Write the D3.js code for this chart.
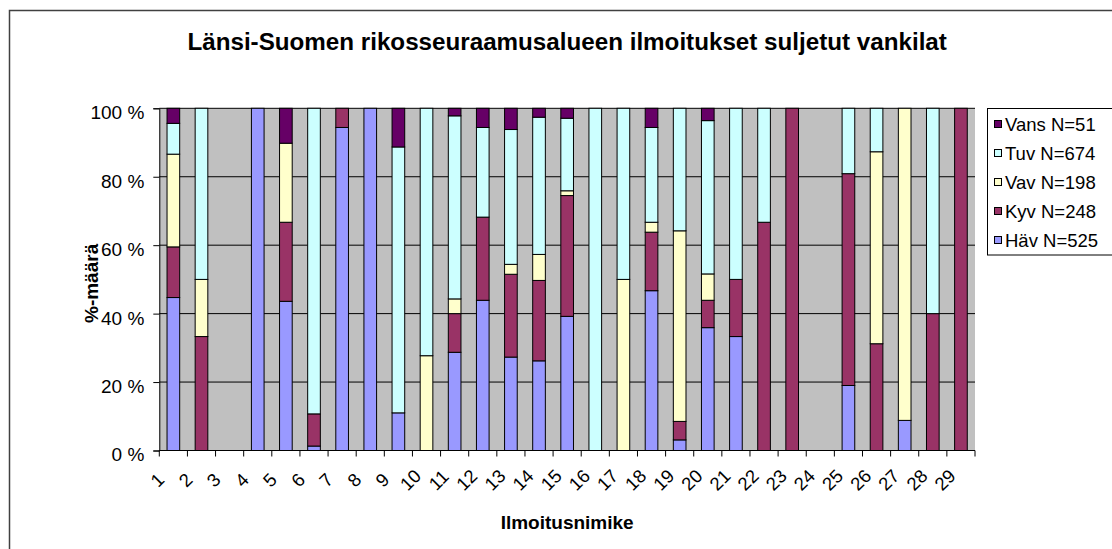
<!DOCTYPE html>
<html><head><meta charset="utf-8">
<script src="https://cdn.jsdelivr.net/npm/d3@7"></script>
<style>html,body{margin:0;padding:0;background:#fff;}svg{display:block;font-family:"Liberation Sans",Arial,sans-serif;}</style>
</head><body>
<svg id="c" width="1112" height="549"></svg>
<script>
const categories = ["1","2","3","4","5","6","7","8","9","10","11","12","13","14","15","16","17","18","19","20","21","22","23","24","25","26","27","28","29"];
const seriesNames = ["Häv N=525","Kyv N=248","Vav N=198","Tuv N=674","Vans N=51"];
const seriesKeys = ["hav","kyv","vav","tuv","vans"];
const colors = ["#9999FF","#993366","#FFFFCC","#CCFFFF","#660066"];
const hav  = [44.7,0,0,100,43.6,1.3,94.4,100,11.0,0,28.7,43.9,27.3,26.2,39.2,0,0,46.7,3.1,35.9,33.3,0,0,0,19.0,0,8.8,0,0];
const kyv  = [14.8,33.3,0,0,23.1,9.4,5.6,0,0,0,11.3,24.3,24.2,23.5,35.3,0,0,17.1,5.4,8.0,16.7,66.7,100,0,61.9,31.2,0,40,100];
const vav  = [27.1,16.7,0,0,23.1,0,0,0,0,27.7,4.3,0,2.9,7.6,1.4,0,50,2.9,55.7,7.7,0,0,0,0,0,56.1,91.2,0,0];
const tuv  = [9.0,50,0,0,0,89.3,0,0,77.7,72.3,53.5,26.2,39.4,40.1,21.2,100,50,27.7,35.8,44.8,50,33.3,0,0,19.1,12.7,0,60,0];
const vans = [4.4,0,0,0,10.2,0,0,0,11.3,0,2.2,5.6,6.2,2.6,2.9,0,0,5.6,0,3.6,0,0,0,0,0,0,0,0,0];
const yTicks = [0,0.2,0.4,0.6,0.8,1.0];
const yTickLabels = ["0 %","20 %","40 %","60 %","80 %","100 %"];
const title = "Länsi-Suomen rikosseuraamusalueen ilmoitukset suljetut vankilat";
const xTitle = "Ilmoitusnimike";
const yTitle = "%-määrä";

const table = categories.map((c,i)=>({cat:c, hav:hav[i], kyv:kyv[i], vav:vav[i], tuv:tuv[i], vans:vans[i]}));

const svg = d3.select("#c");
const L = 159.3, R = 975, T = 108.3, B = 450.5;

svg.append("rect").attr("x",9.5).attr("y",10.5).attr("width",1110).attr("height",550)
  .attr("fill","#fff").attr("stroke","#404040").attr("stroke-width",1.5);

const x = d3.scaleBand().domain(categories).range([L,R]).paddingInner(0.55).paddingOuter(0.275);
const y = d3.scaleLinear().domain([0,1]).range([B,T]);

svg.append("rect").attr("x",L).attr("y",T).attr("width",R-L).attr("height",B-T).attr("fill","#C0C0C0");

svg.append("g").selectAll("line").data(yTicks.slice(1)).join("line")
  .attr("x1",L).attr("x2",R).attr("y1",d=>y(d)).attr("y2",d=>y(d))
  .attr("stroke","#000").attr("stroke-width",1);

const stack = d3.stack().keys(seriesKeys).offset(d3.stackOffsetExpand);
const stacked = stack(table);
svg.append("g").selectAll("g").data(stacked).join("g")
  .attr("fill",(d,i)=>colors[i])
  .selectAll("rect").data(d=>d.filter(s=>s[1]-s[0]>0)).join("rect")
  .attr("x",d=>x(d.data.cat)).attr("width",x.bandwidth())
  .attr("y",d=>y(d[1])).attr("height",d=>y(d[0])-y(d[1]))
  .attr("stroke","#000").attr("stroke-width",1);

const yAxis = d3.axisLeft(y).tickValues(yTicks).tickFormat((d,i)=>yTickLabels[i]).tickSize(6).tickPadding(9);
const ya = svg.append("g").attr("transform",`translate(${L},0)`).call(yAxis);
ya.select(".domain").attr("stroke","#000");
ya.selectAll(".tick line").attr("stroke","#000");
ya.selectAll("text").attr("font-size","19px").attr("fill","#000").attr("dy","0.55em")
  .attr("font-family",'"Liberation Sans",Arial,sans-serif');

const bounds = categories.map(c=>x(c)+x.bandwidth()/2-x.step()/2).concat([R]);
svg.append("line").attr("x1",L).attr("x2",R).attr("y1",B).attr("y2",B).attr("stroke","#000");
svg.append("g").selectAll("line").data(bounds).join("line")
  .attr("x1",d=>d).attr("x2",d=>d).attr("y1",B).attr("y2",B+6).attr("stroke","#000");

svg.append("g").selectAll("text").data(categories).join("text")
  .attr("transform",d=>`translate(${x(d)+x.bandwidth()/2-16},480) rotate(-45)`)
  .attr("text-anchor","middle").attr("dominant-baseline","central")
  .attr("font-size","18.5px").attr("fill","#000").text(d=>d);

svg.append("text").attr("x",(L+R)/2).attr("y",50).attr("text-anchor","middle")
  .attr("font-size","24.2px").attr("font-weight","bold").text(title);
svg.append("text").attr("x",(L+R)/2).attr("y",529).attr("text-anchor","middle")
  .attr("font-size","19px").attr("font-weight","bold").text(xTitle);
svg.append("text").attr("transform",`translate(98,${(T+B)/2+4}) rotate(-90)`).attr("text-anchor","middle")
  .attr("font-size","19px").attr("font-weight","bold").text(yTitle);

const lg = svg.append("g");
lg.append("rect").attr("x",987.5).attr("y",108.5).attr("width",140).attr("height",146.5)
  .attr("fill","#fff").attr("stroke","#000").attr("stroke-width",1);
const order = [4,3,2,1,0];
order.forEach((si,k)=>{
  const cy = 124 + k*29;
  lg.append("rect").attr("x",994.5).attr("y",cy-3.5).attr("width",7).attr("height",7)
    .attr("fill",colors[si]).attr("stroke","#000");
  lg.append("text").attr("x",1005).attr("y",cy).attr("dominant-baseline","central")
    .attr("font-size","18.5px").text(seriesNames[si]);
});
</script>
</body></html>
